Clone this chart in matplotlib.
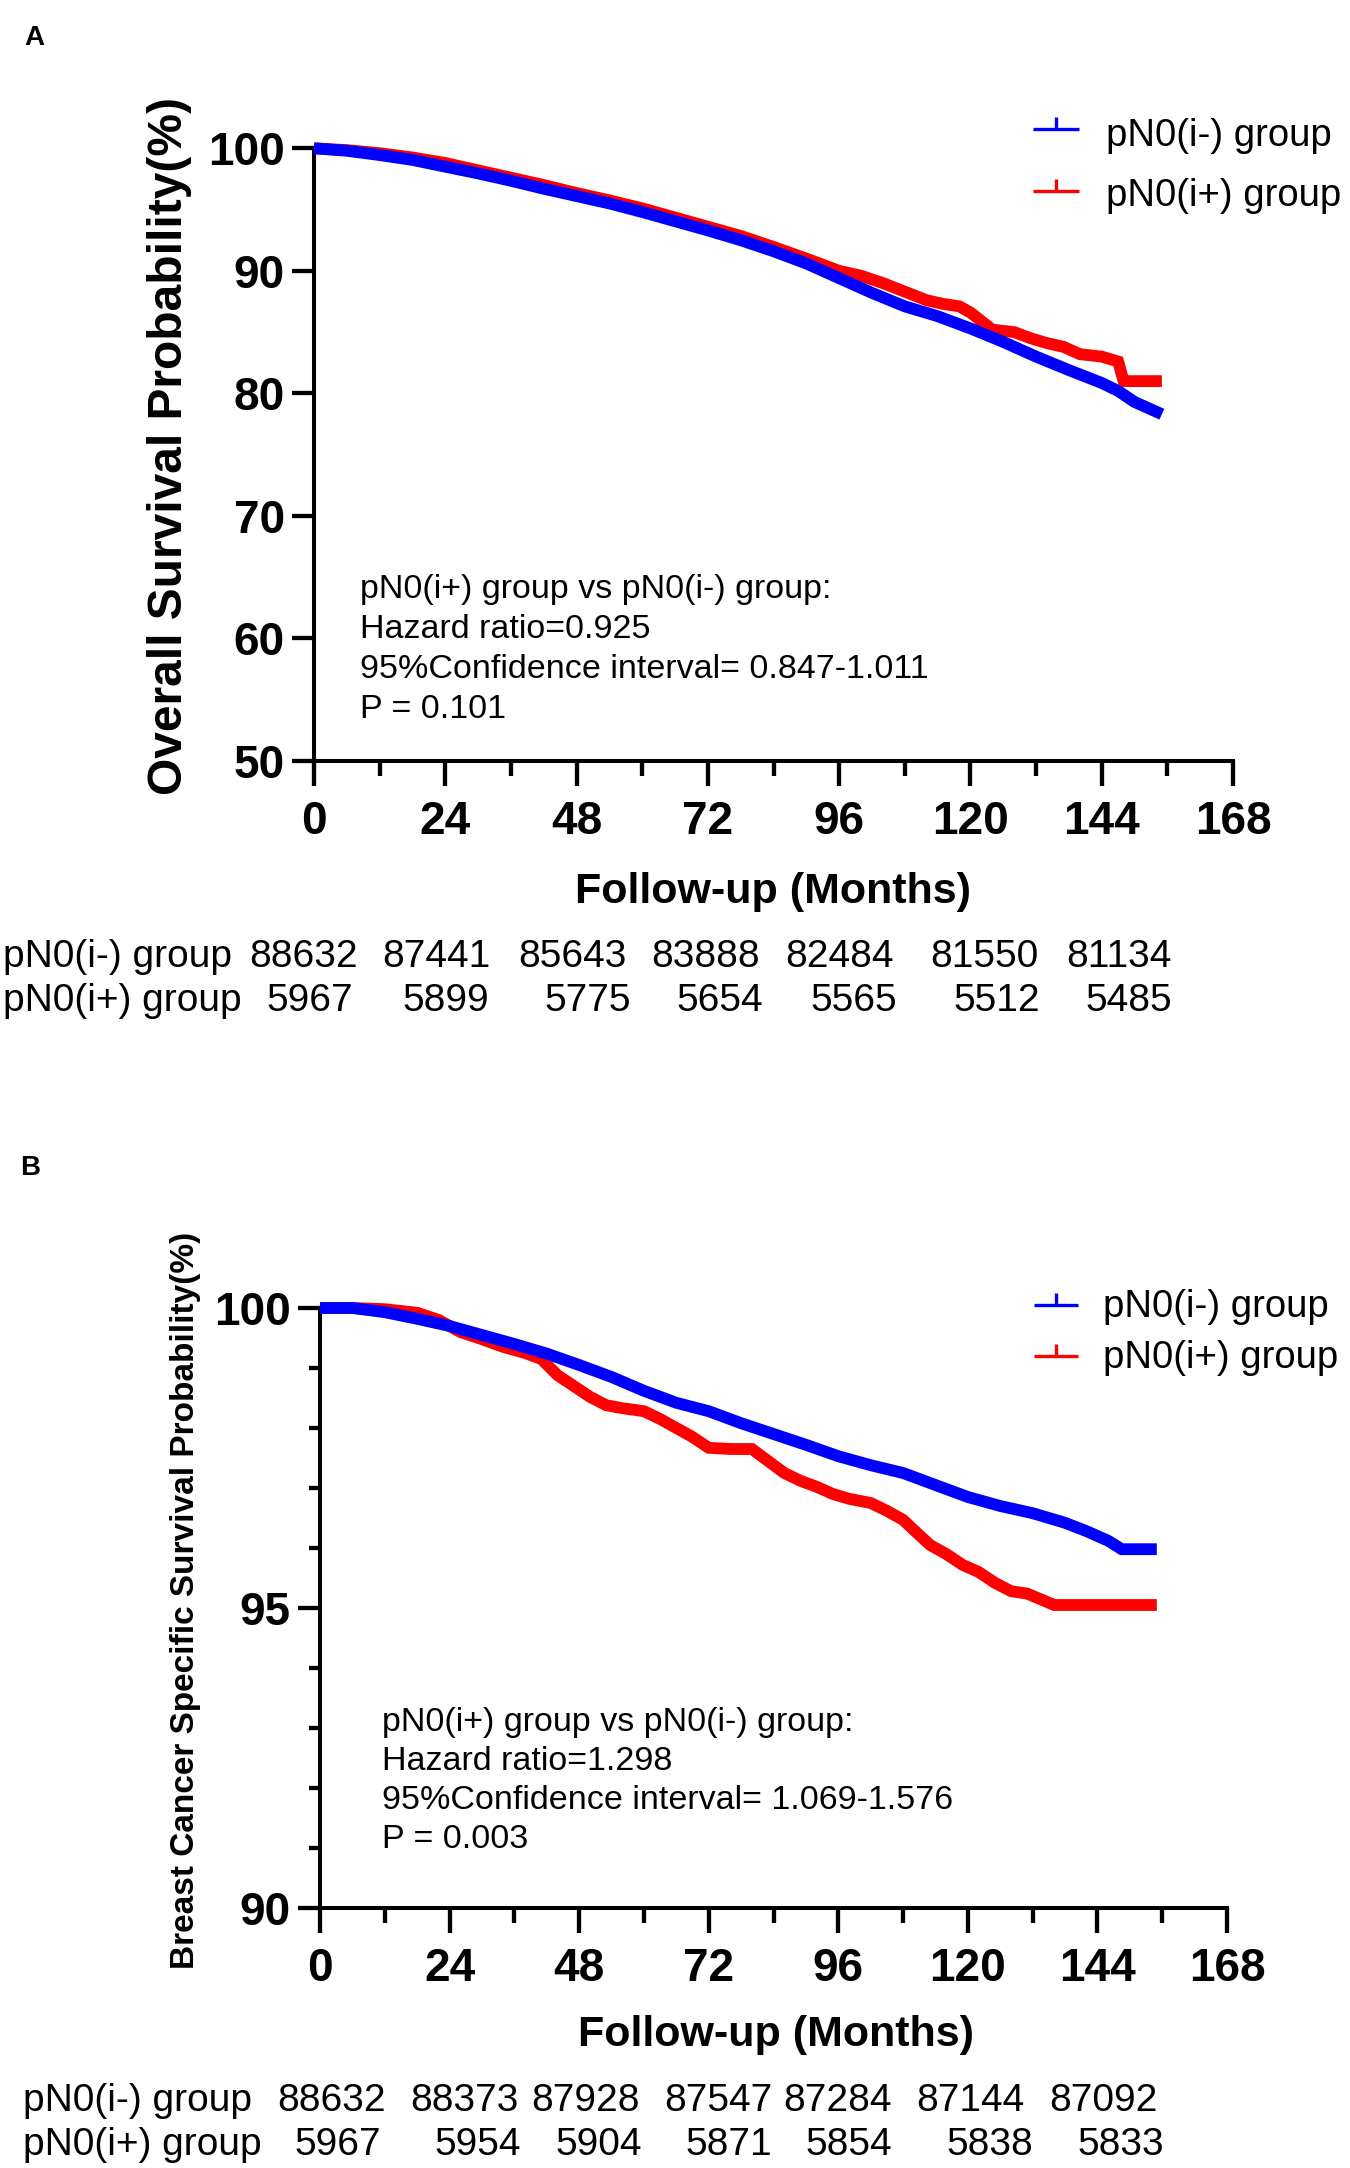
import matplotlib
matplotlib.use("Agg")
import matplotlib.pyplot as plt
from matplotlib.lines import Line2D
from matplotlib.ticker import MultipleLocator

plt.rcParams['font.family'] = ['Liberation Sans', 'DejaVu Sans']

# ---------------- data ----------------
group_labels = ['pN0(i-) group', 'pN0(i+) group']
group_colors = ['#0000ff', '#ff0000']
month_ticks = [0, 24, 48, 72, 96, 120, 144, 168]

# Panel A: overall survival (%)
a_neg_t = [0, 6, 12, 18, 24, 30, 36, 42, 48, 54, 60, 66, 72, 78, 84, 90, 96, 102,
           108, 114, 120, 126, 132, 138, 144, 147, 150, 153, 155]
a_neg_s = [100, 99.8, 99.45, 99.05, 98.5, 97.95, 97.35, 96.7, 96.1, 95.5, 94.8, 94.05,
           93.3, 92.5, 91.6, 90.6, 89.4, 88.2, 87.1, 86.3, 85.3, 84.2, 83.0, 81.9,
           80.85, 80.2, 79.3, 78.7, 78.3]
a_pos_t = [0, 6, 12, 18, 24, 30, 36, 42, 48, 54, 60, 66, 72, 78, 84, 90, 96, 100,
           104, 108, 112, 115, 118, 120, 122, 124, 128, 131, 134, 137, 140, 144, 147,
           148, 155]
a_pos_s = [100, 99.85, 99.6, 99.25, 98.8, 98.2, 97.6, 97.0, 96.35, 95.75, 95.1, 94.35,
           93.6, 92.85, 91.95, 91.0, 90.0, 89.6, 89.0, 88.3, 87.6, 87.3, 87.1, 86.6,
           85.9, 85.2, 85.0, 84.5, 84.1, 83.8, 83.2, 83.0, 82.6, 81.0, 81.0]

# Panel B: breast cancer specific survival (%)
b_neg_t = [0, 6, 12, 18, 24, 30, 36, 42, 48, 54, 60, 66, 72, 78, 84, 90, 96, 102,
           108, 114, 120, 126, 132, 138, 142, 146, 148.5, 155]
b_neg_s = [100, 100.0, 99.93, 99.82, 99.7, 99.55, 99.4, 99.24, 99.05, 98.85, 98.62,
           98.42, 98.28, 98.08, 97.9, 97.72, 97.53, 97.38, 97.25, 97.05, 96.85, 96.7,
           96.58, 96.42, 96.28, 96.12, 95.98, 95.98]
b_pos_t = [0, 6, 12, 18, 22, 26, 30, 34, 38, 41, 44, 47, 50, 53, 56, 60, 63, 66, 69,
           72, 76, 80, 83, 86, 89, 92, 95, 98, 102, 105, 108, 110, 113, 116, 119, 122,
           125, 128, 131, 136, 155]
b_pos_s = [100, 100, 99.98, 99.92, 99.8, 99.6, 99.48, 99.35, 99.25, 99.15, 98.88,
           98.7, 98.52, 98.38, 98.33, 98.28, 98.15, 98.0, 97.85, 97.67, 97.65, 97.65,
           97.45, 97.25, 97.12, 97.02, 96.9, 96.82, 96.75, 96.62, 96.47, 96.3, 96.05,
           95.9, 95.72, 95.6, 95.42, 95.28, 95.24, 95.05, 95.05]

# numbers at risk
a_risk_neg = [88632, 87441, 85643, 83888, 82484, 81550, 81134]
a_risk_pos = [5967, 5899, 5775, 5654, 5565, 5512, 5485]
b_risk_neg = [88632, 88373, 87928, 87547, 87284, 87144, 87092]
b_risk_pos = [5967, 5954, 5904, 5871, 5854, 5838, 5833]

a_stats = ["pN0(i+) group vs pN0(i-) group:", "Hazard ratio=0.925",
           "95%Confidence interval= 0.847-1.011", "P = 0.101"]
b_stats = ["pN0(i+) group vs pN0(i-) group:", "Hazard ratio=1.298",
           "95%Confidence interval= 1.069-1.576", "P = 0.003"]

# ---------------- layout (pixels) ----------------
W, H, DPI = 1350, 2168, 100
fig = plt.figure(figsize=(W / DPI, H / DPI), dpi=DPI)
fig.patch.set_facecolor('white')


def fx(x):
    return x / W


def fy(y):
    return 1 - y / H


def make_axes(left, right, top, bottom):
    return fig.add_axes([fx(left), fy(bottom), fx(right) - fx(left), fy(top) - fy(bottom)])


def style_axes(ax, ylim, yticks, yminor):
    ax.set_xlim(0, 168)
    ax.set_ylim(*ylim)
    ax.set_xticks(month_ticks)
    ax.xaxis.set_minor_locator(MultipleLocator(12))
    ax.set_yticks(yticks)
    if yminor:
        ax.yaxis.set_minor_locator(MultipleLocator(yminor))
    for s in ['top', 'right']:
        ax.spines[s].set_visible(False)
    for s in ['left', 'bottom']:
        ax.spines[s].set_linewidth(2.9)
    ax.tick_params(axis='x', which='major', length=18, width=3.1, labelsize=33, pad=10)
    ax.tick_params(axis='x', which='minor', length=11, width=3.1)
    ax.tick_params(axis='y', which='major', length=16, width=3.1, labelsize=33, pad=5)
    ax.tick_params(axis='y', which='minor', length=8, width=3.1)
    for lab in ax.get_xticklabels() + ax.get_yticklabels():
        lab.set_fontweight('bold')
    ax.patch.set_alpha(0)


def draw_curves(ax, series):
    # red (pN0(i+)) underneath, blue (pN0(i-)) on top
    for (t, s), c, z in zip(series, group_colors, [4, 3]):
        ax.plot(t, s, color=c, lw=8.5, solid_capstyle='butt', solid_joinstyle='miter',
                clip_on=False, zorder=z)


def legend(x0, x1, ys_handle, ys_base, x_text):
    xm = (x0 + x1) / 2
    for yh, yb, c, lab in zip(ys_handle, ys_base, group_colors, group_labels):
        fig.add_artist(Line2D([fx(x0), fx(x1)], [fy(yh), fy(yh)], transform=fig.transFigure,
                              color=c, lw=2.4, solid_capstyle='butt'))
        fig.add_artist(Line2D([fx(xm), fx(xm)], [fy(yh), fy(yh - 12)], transform=fig.transFigure,
                              color=c, lw=2.4, solid_capstyle='butt'))
        fig.text(fx(x_text), fy(yb), lab, fontsize=27.5, ha='left', va='baseline')


def stats_text(x, baselines, lines):
    for yb, line in zip(baselines, lines):
        fig.text(fx(x), fy(yb), line, fontsize=24.5, ha='left', va='baseline')


def risk_table(x_label, baselines, rights, rows):
    for yb, r_x, vals, lab in zip(baselines, rights, rows, group_labels):
        fig.text(fx(x_label), fy(yb), lab, fontsize=28, ha='left', va='baseline')
        for xr, v in zip(r_x, vals):
            fig.text(fx(xr), fy(yb), str(v), fontsize=28, ha='right', va='baseline')


# ---------------- Panel A ----------------
axA = make_axes(314, 1233, 148.3, 761)
style_axes(axA, (50, 100), [50, 60, 70, 80, 90, 100], None)
draw_curves(axA, [(a_neg_t, a_neg_s), (a_pos_t, a_pos_s)])
fig.text(fx(34.5), fy(45), 'A', fontsize=20, fontweight='bold', ha='center', va='baseline')
fig.text(fx(170), fy(446), 'Overall Survival Probability(%)', rotation=90, fontsize=34.5,
         fontweight='bold', ha='center', va='center')
fig.text(fx(773), fy(903), 'Follow-up (Months)', fontsize=31, fontweight='bold',
         ha='center', va='baseline')
legend(1033, 1079, [129, 191], [146, 206], 1106)
stats_text(360, [598, 638, 678, 718], a_stats)
risk_table(3, [967, 1011],
           [[358, 490, 627, 760, 894, 1039, 1172], [353, 489, 631, 763, 897, 1040, 1172]],
           [a_risk_neg, a_risk_pos])

# ---------------- Panel B ----------------
axB = make_axes(320, 1227, 1308, 1908)
style_axes(axB, (90, 100), [90, 95, 100], 1)
draw_curves(axB, [(b_neg_t, b_neg_s), (b_pos_t, b_pos_s)])
fig.text(fx(30), fy(1175), 'B', fontsize=20, fontweight='bold', ha='center', va='baseline')
fig.text(fx(186), fy(1600), 'Breast Cancer Specific Survival Probability(%)', rotation=90,
         fontsize=24, fontweight='bold', ha='center', va='center')
fig.text(fx(776), fy(2046), 'Follow-up (Months)', fontsize=31, fontweight='bold',
         ha='center', va='baseline')
legend(1034, 1078, [1305, 1356], [1317, 1368], 1103)
stats_text(382, [1731, 1770, 1809, 1848], b_stats)
risk_table(23, [2111, 2155],
           [[386, 519, 640, 772, 892, 1024, 1158], [381, 521, 642, 772, 892, 1033, 1164]],
           [b_risk_neg, b_risk_pos])

fig.savefig('out.png', dpi=DPI, facecolor='white')
